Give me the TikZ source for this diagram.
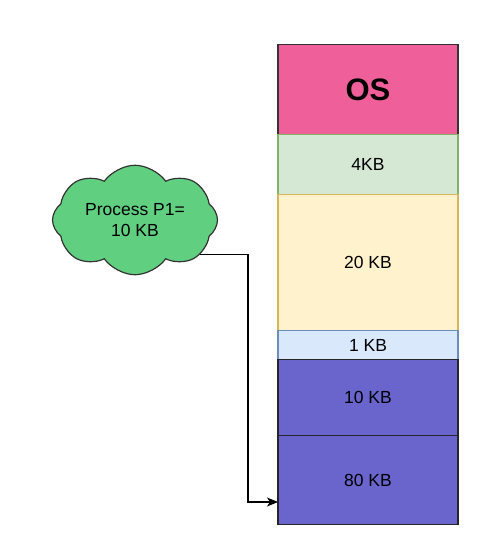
\documentclass[tikz,border=0pt]{standalone}
\usepackage{fontspec}
\setmainfont{Liberation Sans}
\usetikzlibrary{arrows.meta,positioning,shapes.symbols}
\definecolor{ospink}{RGB}{239,96,155}
\definecolor{smallgreen}{RGB}{213,232,212}
\definecolor{smallgreenline}{RGB}{130,179,102}
\definecolor{bigyellow}{RGB}{255,242,204}
\definecolor{bigyellowline}{RGB}{214,182,86}
\definecolor{tinyblue}{RGB}{218,232,252}
\definecolor{tinyblueline}{RGB}{108,142,191}
\definecolor{usedpurple}{RGB}{105,101,204}
\definecolor{cloudgreen}{RGB}{96,208,128}
\begin{document}
\begin{tikzpicture}[x=1pt,y=-1pt,every node/.style={font=\fontsize{17.5}{21}\selectfont},
        seg/.style={draw,line width=1.2pt,minimum width=180pt,anchor=north,
                    inner sep=0pt,align=center}]
      \useasboundingbox (0,0) rectangle (490,558);
      % memory partitions
      \node[seg,fill=ospink,draw=black!80,minimum height=90pt,
            font=\bfseries\fontsize{31}{36}\selectfont] (os) at (368,44) {OS};
      \node[seg,fill=smallgreen,draw=smallgreenline,minimum height=60pt] (p4) at (368,134) {4KB};
      \node[seg,fill=bigyellow,draw=bigyellowline,minimum height=136pt] (p20) at (368,194) {20 KB};
      \node[seg,fill=tinyblue,draw=tinyblueline,minimum height=29pt] (p1) at (368,330) {1 KB};
      \node[seg,fill=usedpurple,draw=black!85,minimum height=76pt] (p10) at (368,359) {10 KB};
      \node[seg,fill=usedpurple,draw=black!85,minimum height=89pt] (p80) at (368,435) {80 KB};
      % incoming process
      \node[cloud,cloud puffs=8,cloud puff arc=110,aspect=1.6,draw=black!80,line width=1.2pt,
            fill=cloudgreen,minimum width=165pt,minimum height=104pt,inner sep=0pt,align=center]
            (proc) at (135,220) {Process P1=\\10 KB};
      \coordinate (bend) at (248,380);
      \coordinate (tip) at (278,502);
      \draw[line width=1.2pt,-{Stealth[length=11pt,width=9pt,inset=3pt]}] (proc.-28) -| (bend) |- (tip);
    \end{tikzpicture}
\end{document}
